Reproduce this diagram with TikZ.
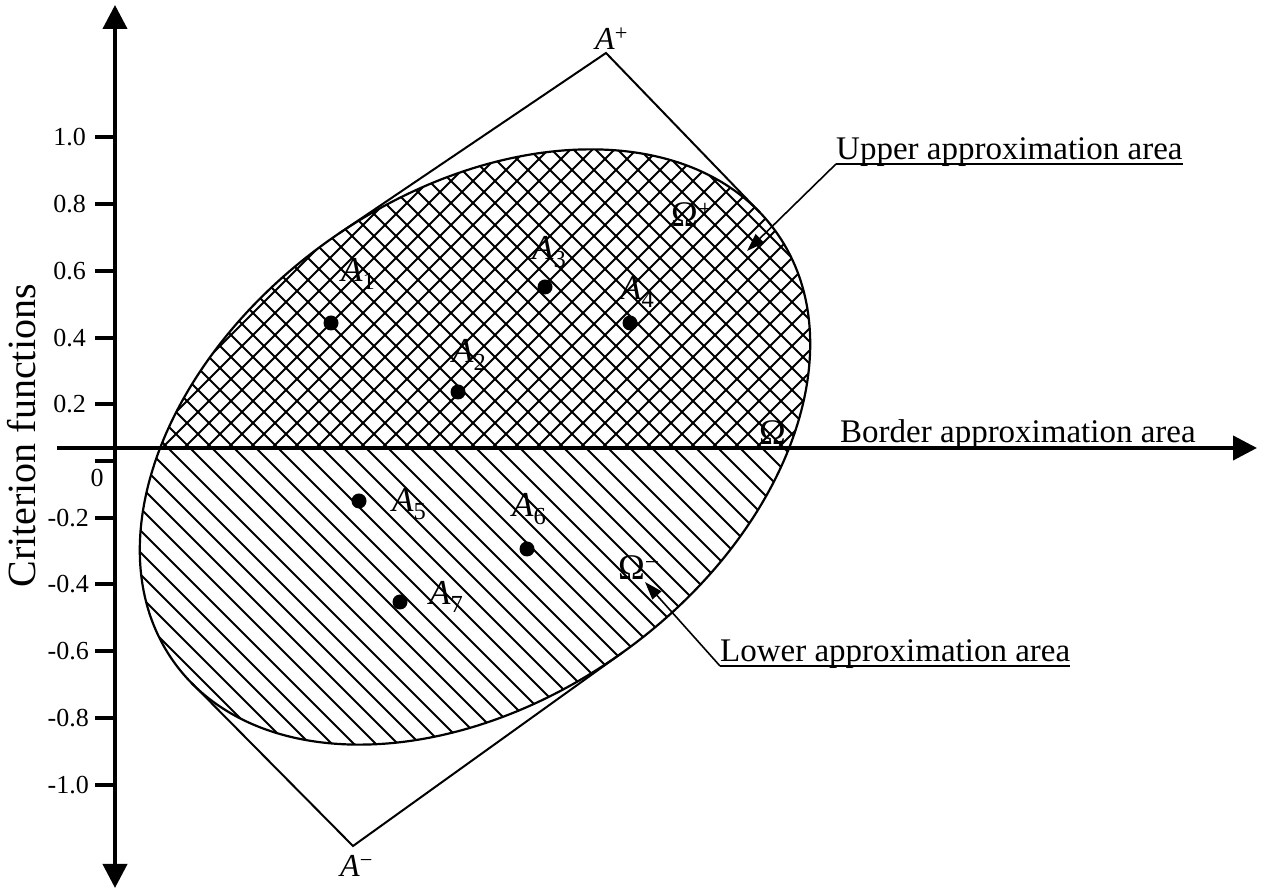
\documentclass[tikz,border=0pt]{standalone}
\usepackage{fontspec}
\setmainfont{Liberation Serif}
\usetikzlibrary{arrows.meta}

\begin{document}
\begin{tikzpicture}[x=1pt, y=1pt,
  >={Triangle[length=24pt, width=24pt]},
  axisline/.style={line width=4pt},
  tickmark/.style={line width=4pt},
  ticklbl/.style={anchor=east, inner sep=0pt, font=\fontsize{26}{26}\selectfont},
  hatch/.style={line width=2pt},
  rim/.style={line width=2.2pt},
  touch/.style={line width=2pt},
  altdot/.style={circle, fill=black, inner sep=0pt, minimum size=15pt},
  altlbl/.style={anchor=base west, inner sep=0pt, font=\fontsize{35}{35}\selectfont},
  omlbl/.style={anchor=base west, inner sep=0pt, font=\fontsize{36}{36}\selectfont},
  arealbl/.style={anchor=base west, inner sep=0pt, font=\fontsize{33}{33}\selectfont},
  lead/.style={line width=1.6pt, -{Triangle[length=18pt, width=12pt]}},
]
\useasboundingbox (0,0) rectangle (1263,896);

% hatched regions inside the ellipse
\begin{scope}
  \clip (475,449) ellipse [x radius=370, y radius=253, rotate=35.5];
  \begin{scope}
    \clip (0,448) rectangle (1263,896);
    \foreach \c in {-616,-594,...,374} \draw[hatch] (\c,0) -- ++(900,900);
    \foreach \c in {572,594,...,1580} \draw[hatch] (\c,0) -- ++(-900,900);
  \end{scope}
  \clip (0,0) rectangle (1263,448);
  \foreach \c in {286,308,...,1270} \draw[hatch] (\c,0) -- ++(-900,900);
\end{scope}
\draw[rim] (475,449) ellipse [x radius=370, y radius=253, rotate=35.5];

% tangent points
\begin{scope}[shift={(475,449)}, rotate=35.5]
  \coordinate (tp1) at ({370*cos(87.9)}, {253*sin(87.9)});
  \coordinate (tp2) at ({370*cos(5.8)}, {253*sin(5.8)});
  \coordinate (tp3) at ({370*cos(186.3)}, {253*sin(186.3)});
  \coordinate (tp4) at ({370*cos(270.2)}, {253*sin(270.2)});
\end{scope}
\coordinate (aplus) at (606,843);
\coordinate (aminus) at (353,50);
\draw[touch] (tp1) -- (aplus) -- (tp2);
\draw[touch] (tp3) -- (aminus) -- (tp4);
\node[altlbl, font=\fontsize{32}{32}\selectfont] (lplus) at (595,846) {{\itshape A}\textsuperscript{+}};
\node[altlbl, font=\fontsize{32}{32}\selectfont] (lminus) at (340,19) {{\itshape A}\textsuperscript{−}};

% axes
\coordinate (ybot) at (115,8);
\coordinate (ytop) at (115,891);
\coordinate (xleft) at (57,448);
\coordinate (xright) at (1257,448);
\draw[axisline, <->] (ybot) -- (ytop);
\draw[axisline, ->] (xleft) -- (xright);
\foreach \yy/\xx/\lab [count=\i] in {759/86/1.0, 692/86/0.8, 625/86/0.6, 558/86/0.4, 492/86/0.2,
    378/89/-0.2, 312/89/-0.4, 245/89/-0.6, 178/89/-0.8, 111/89/-1.0} {
  \draw[tickmark] (95,\yy) -- (115,\yy);
  \node[ticklbl] (tl\i) at (\xx,\yy) {\lab};
}
\draw[tickmark] (95,435) -- (115,435);
\node[ticklbl, anchor=center] (tl0) at (97,418) {0};
\node[rotate=90, anchor=base, inner sep=0pt, font=\fontsize{40}{40}\selectfont] (ylabel) at (35,460) {Criterion functions};

% alternatives
\node[altdot] (a1) at (331,573) {};
\node[altdot] (a2) at (458,504) {};
\node[altdot] (a3) at (545,609) {};
\node[altdot] (a4) at (630,573) {};
\node[altdot] (a5) at (359,395) {};
\node[altdot] (a6) at (527,347) {};
\node[altdot] (a7) at (400,294) {};
\node[altlbl] (la1) at (341,614) {{\itshape A}\textsubscript{1}};
\node[altlbl] (la2) at (452,533) {{\itshape A}\textsubscript{2}};
\node[altlbl] (la3) at (532,636) {{\itshape A}\textsubscript{3}};
\node[altlbl] (la4) at (620,596) {{\itshape A}\textsubscript{4}};
\node[altlbl] (la5) at (392,384) {{\itshape A}\textsubscript{5}};
\node[altlbl] (la6) at (512,379) {{\itshape A}\textsubscript{6}};
\node[altlbl] (la7) at (429,291) {{\itshape A}\textsubscript{7}};

% areas
\node[omlbl] (omplus) at (671,669) {Ω\textsuperscript{+}};
\node[omlbl] (omzero) at (759,451) {Ω};
\node[omlbl] (omminus) at (618,316) {Ω\textsuperscript{−}};

\node[arealbl] (upper) at (836,736) {Upper approximation area};
\draw[line width=1.6pt] ([yshift=-4pt]upper.base west) -- ([yshift=-4pt]upper.base east);
\coordinate (uptip) at (747,645);
\draw[lead] ([yshift=-4pt]upper.base west) -- (uptip);

\node[arealbl] (border) at (840,453) {Border approximation area};

\node[arealbl] (lower) at (720,234) {Lower approximation area};
\draw[line width=1.6pt] ([yshift=-4pt]lower.base west) -- ([yshift=-4pt]lower.base east);
\coordinate (lowtip) at (645,314);
\draw[lead] ([yshift=-4pt]lower.base west) -- (lowtip);

\end{tikzpicture}
\end{document}
